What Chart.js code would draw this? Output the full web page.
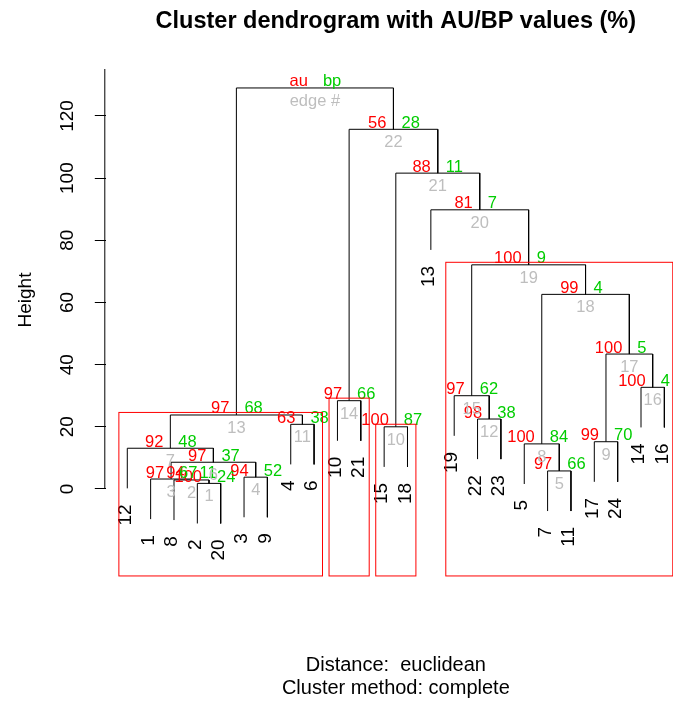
<!DOCTYPE html>
<html>
<head>
<meta charset="utf-8">
<script src="https://cdn.jsdelivr.net/npm/chart.js@4"></script>
<style>
  html, body { margin: 0; padding: 0; background: #fff; }
  #wrap { width: 673px; height: 702px; position: relative; }
</style>
</head>
<body>
<div id="wrap"><canvas id="dendro"></canvas></div>
<script>
// leaves, left to right
const leafOrder = ['12', '1', '8', '2', '20', '3', '9', '4', '6', '10', '21', '15', '18', '13', '19', '22', '23', '5', '7', '11', '17', '24', '14', '16'];

// hclust style merges: negative = observation, positive = edge number
const mergeLeft  = [-2, -8, -1, -3, -7, 3, -12, -5, -17, -15, -4, -22, 7, -10, -19, -14, 9, 8, 15, -13, 10, 14, 13];
const mergeRight = [-20, 1, 2, -9, -11, 4, 6, 5, -24, -18, -6, -23, 11, -21, 12, -16, 16, 17, 18, 19, 20, 21, 22];
const mergeHeight = [1.8, 2.9, 3.2, 3.8, 5.8, 8.6, 13.1, 14.5, 15.2, 20.0, 20.8, 22.5, 23.8, 28.4, 30.0, 32.7, 43.4, 62.6, 72.1, 89.8, 101.6, 115.7, 129.0];

// AU / BP values (%), root carries the legend
const auValues = ['100', '94', '97', '94', '97', '97', '92', '100', '99', '100', '63', '98', '97', '97', '97', '100', '100', '99', '100', '81', '88', '56', 'au'];
const bpValues = ['24', '11', '67', '52', '66', '37', '48', '84', '70', '87', '38', '38', '68', '66', '62', '4', '5', '4', '9', '7', '11', '28', 'bp'];
const edgeLabels = ['1', '2', '3', '4', '5', '6', '7', '8', '9', '10', '11', '12', '13', '14', '15', '16', '17', '18', '19', '20', '21', '22', 'edge #'];

// clusters boxed by pvrect (au >= 95)
const rectEdges = [13, 14, 10, 19];

const yTicks = [0, 20, 40, 60, 80, 100, 120];

const hang = 0.1 * Math.max(...mergeHeight);
const usrX = [0.08, 24.92];
const usrY = [-28.8, 135.1];

const leafPos = {};
leafOrder.forEach((lab, i) => { leafPos[lab] = i + 1; });

// x centre of every edge and the positions it covers
const nodeX = [];
const nodeMembers = [];
function childX(c) { return c < 0 ? leafPos[String(-c)] : nodeX[c - 1]; }
function childMembers(c) { return c < 0 ? [leafPos[String(-c)]] : nodeMembers[c - 1]; }
for (let i = 0; i < mergeHeight.length; i++) {
  nodeX.push((childX(mergeLeft[i]) + childX(mergeRight[i])) / 2);
  nodeMembers.push(childMembers(mergeLeft[i]).concat(childMembers(mergeRight[i])));
}

const datasets = mergeHeight.map((h, i) => {
  const a = mergeLeft[i], b = mergeRight[i];
  const bottomA = a < 0 ? h - hang : mergeHeight[a - 1];
  const bottomB = b < 0 ? h - hang : mergeHeight[b - 1];
  return {
    label: 'edge ' + (i + 1),
    data: [
      { x: childX(a), y: bottomA },
      { x: childX(a), y: h },
      { x: childX(b), y: h },
      { x: childX(b), y: bottomB }
    ],
    showLine: true,
    borderColor: '#000',
    borderWidth: 1,
    pointRadius: 0,
    fill: false,
    tension: 0
  };
});

const FONT = '"Liberation Sans", Arial, Helvetica, sans-serif';
Chart.defaults.font.family = FONT;

const overlay = {
  id: 'overlay',
  afterDatasetsDraw(chart) {
    const { ctx, chartArea } = chart;
    const xs = chart.scales.x, ys = chart.scales.y;
    ctx.save();

    // y axis line from 0 up to the top of the plot region
    ctx.strokeStyle = '#000';
    ctx.lineWidth = 1;
    ctx.beginPath();
    ctx.moveTo(chartArea.left - 1, ys.getPixelForValue(0));
    ctx.lineTo(chartArea.left - 1, chartArea.top);
    ctx.stroke();

    // leaf labels
    ctx.fillStyle = '#000';
    ctx.font = '19px ' + FONT;
    ctx.textAlign = 'right';
    ctx.textBaseline = 'middle';
    mergeHeight.forEach((h, i) => {
      [mergeLeft[i], mergeRight[i]].forEach(c => {
        if (c >= 0) return;
        const px = xs.getPixelForValue(leafPos[String(-c)]);
        const py = ys.getPixelForValue(h - hang) + 16;
        ctx.save();
        ctx.translate(px - 2, py);
        ctx.rotate(-Math.PI / 2);
        ctx.fillText(String(-c), 0, 0);
        ctx.restore();
      });
    });

    // au / bp / edge numbers
    ctx.font = '16.5px ' + FONT;
    ctx.textBaseline = 'alphabetic';
    mergeHeight.forEach((h, i) => {
      const px = xs.getPixelForValue(nodeX[i]);
      const py = ys.getPixelForValue(h);
      ctx.fillStyle = '#FF0000';
      ctx.textAlign = 'right';
      ctx.fillText(auValues[i], px - 7, py - 1.5);
      ctx.fillStyle = '#00CD00';
      ctx.textAlign = 'left';
      ctx.fillText(bpValues[i], px + 8, py - 1.5);
      ctx.fillStyle = '#BEBEBE';
      ctx.textAlign = 'center';
      ctx.fillText(edgeLabels[i], px, py + 18);
    });

    // pvrect boxes
    const mx = (usrX[1] - usrX[0]) / mergeHeight.length / 3;
    const my = (usrY[1] - usrY[0]) / 200;
    ctx.strokeStyle = '#FF0000';
    ctx.lineWidth = 1;
    rectEdges.forEach(e => {
      const mem = nodeMembers[e - 1];
      const x1 = xs.getPixelForValue(Math.min(...mem) - mx);
      const x2 = xs.getPixelForValue(Math.max(...mem) + mx);
      const y1 = ys.getPixelForValue(mergeHeight[e - 1] + my);
      const y2 = ys.getPixelForValue(usrY[0] + my);
      ctx.strokeRect(x1, y1, x2 - x1, y2 - y1);
    });

    // titles
    const cx = xs.getPixelForValue((usrX[0] + usrX[1]) / 2);
    ctx.fillStyle = '#000';
    ctx.textAlign = 'center';
    ctx.font = 'bold 23.5px ' + FONT;
    ctx.fillText('Cluster dendrogram with AU/BP values (%)', cx, 28);
    ctx.font = '20px ' + FONT;
    ctx.fillText('Distance:  euclidean', cx, 671);
    ctx.fillText('Cluster method: complete', cx, 694);

    ctx.save();
    ctx.translate(26, 300);
    ctx.rotate(-Math.PI / 2);
    ctx.textBaseline = 'middle';
    ctx.font = '19px ' + FONT;
    ctx.fillText('Height', 0, 0);
    ctx.restore();

    ctx.restore();
  }
};

new Chart(document.getElementById('dendro'), {
  type: 'scatter',
  data: { datasets },
  options: {
    responsive: true,
    maintainAspectRatio: false,
    animation: false,
    layout: { padding: { top: 69, bottom: 123.5, left: 0, right: 0 } },
    plugins: {
      legend: { display: false },
      tooltip: { enabled: false },
      title: { display: false }
    },
    scales: {
      x: {
        type: 'linear',
        display: false,
        min: usrX[0],
        max: 24.37
      },
      y: {
        type: 'linear',
        min: usrY[0],
        max: usrY[1],
        afterBuildTicks: scale => { scale.ticks = yTicks.map(v => ({ value: v })); },
        afterFit: scale => { scale.width = 105.8; },
        border: { display: false },
        grid: { drawOnChartArea: false, drawTicks: true, tickLength: 11, color: '#000' },
        ticks: {
          color: '#000',
          font: { size: 19 },
          minRotation: 90,
          maxRotation: 90,
          crossAlign: 'center',
          padding: 11
        }
      }
    }
  },
  plugins: [overlay]
});
</script>
</body>
</html>
